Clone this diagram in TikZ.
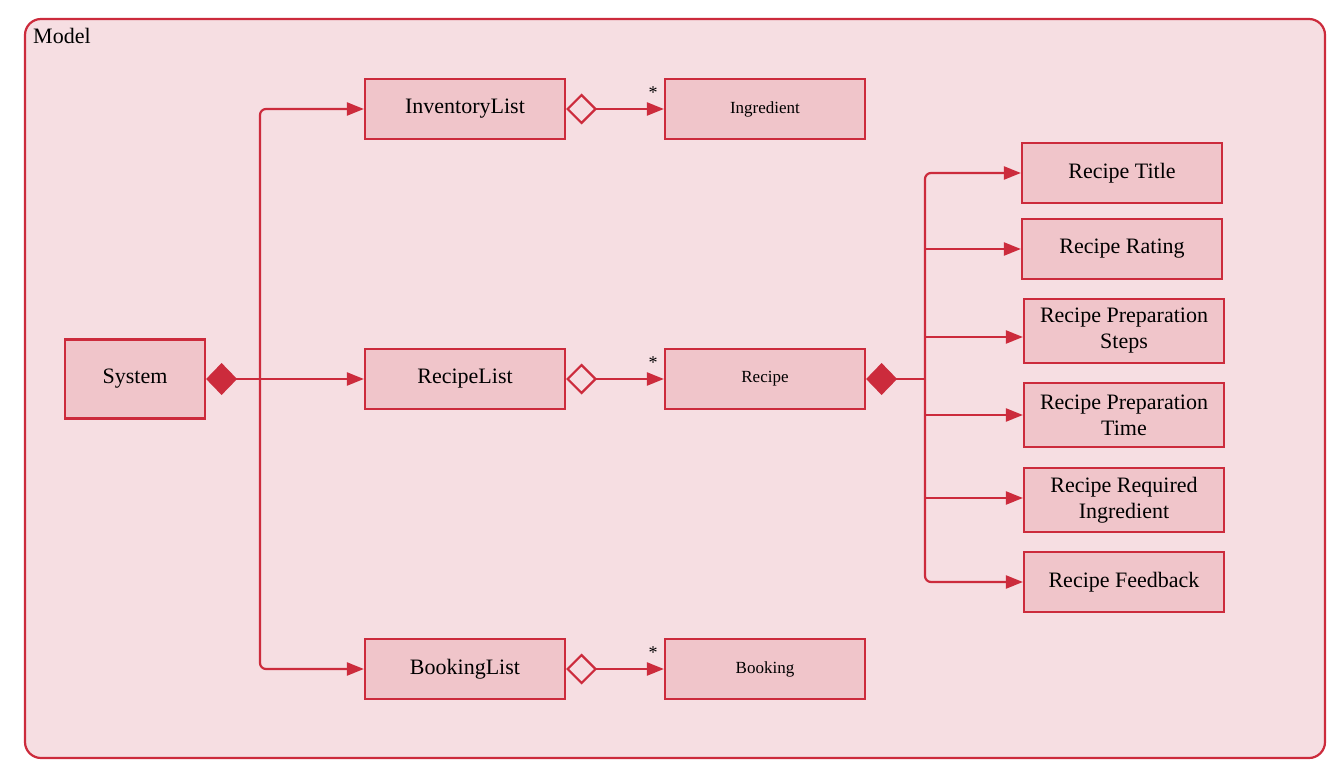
\documentclass[tikz,border=0pt]{standalone}
\usepackage{fontspec}
\setmainfont{Liberation Serif}
\usetikzlibrary{arrows.meta,shapes.geometric}
\definecolor{umlred}{HTML}{CC2B3C}
\definecolor{outerfill}{HTML}{F6DEE2}
\definecolor{boxfill}{HTML}{F0C5CA}
\tikzset{
  cls/.style={draw=umlred, line width=2.2pt, fill=boxfill, minimum width=200pt, minimum height=60pt, inner sep=2pt, align=center, font=\fontsize{22}{26}\selectfont, text=black},
  smallcls/.style={cls, font=\fontsize{17}{20}\selectfont},
  tallcls/.style={cls, minimum height=64pt},
  conn/.style={draw=umlred, line width=2.2pt, -{Triangle[length=17pt,width=13pt]}},
  compo/.style={conn, {Diamond[length=31pt,width=32pt]}-{Triangle[length=17pt,width=13pt]}},
  aggr/.style={conn, {Diamond[open,length=31pt,width=31pt,line width=2.2pt]}-{Triangle[length=17pt,width=13pt]}},
  mult/.style={font=\fontsize{18}{18}\selectfont, inner sep=0pt, text=black},
}
\begin{document}
\begin{tikzpicture}[x=1pt,y=-1pt]
\useasboundingbox (0,0) rectangle (1344,781);
\draw[draw=umlred, line width=2.2pt, fill=outerfill, rounded corners=16pt] (25,19) rectangle (1325,758);
\node[anchor=north west, inner sep=0pt, font=\fontsize{22}{26}\selectfont] (model) at (33,28) {Model};

\node[cls, minimum width=140pt, minimum height=79pt] (sys) at (135,379) {System};
\node[cls] (il) at (465,109) {InventoryList};
\node[cls] (rl) at (465,379) {RecipeList};
\node[cls] (bl) at (465,669) {BookingList};
\node[smallcls] (ing) at (765,109) {Ingredient};
\node[smallcls] (rec) at (765,379) {Recipe};
\node[smallcls] (book) at (765,669) {Booking};

\node[cls] (title) at (1122,173) {Recipe Title};
\node[cls] (rating) at (1122,249) {Recipe Rating};
\node[tallcls] (steps) at (1124,331) {Recipe Preparation\\Steps};
\node[tallcls] (time) at (1124,415) {Recipe Preparation\\Time};
\node[tallcls] (req) at (1124,500) {Recipe Required\\Ingredient};
\node[cls] (feed) at (1124,582) {Recipe Feedback};

\coordinate (lbus) at (260,379);
\coordinate (rbus) at (925,379);

% System composition
\draw[compo] (sys.east) -- (rl.west);
\draw[conn, rounded corners=6pt] (lbus) |- (il.west);
\draw[conn, rounded corners=6pt] (lbus) |- (bl.west);

% aggregations
\draw[aggr] (il.east) -- (ing.west);
\draw[aggr] (rl.east) -- (rec.west);
\draw[aggr] (bl.east) -- (book.west);
\node[mult] (m1) at (653,93) {*};
\node[mult] (m2) at (653,363) {*};
\node[mult] (m3) at (653,653) {*};

% Recipe composition
\draw[draw=umlred, line width=2.2pt, {Diamond[length=31pt,width=32pt]}-] (rec.east) -- (rbus);
\draw[conn, rounded corners=6pt] (rbus) |- (title.west);
\draw[conn, rounded corners=6pt] (rbus) |- (feed.west);
\draw[conn] (rbus |- rating.west) -- (rating.west);
\draw[conn] (925,337) -- ([yshift=-6pt]steps.west);
\draw[conn] (rbus |- time.west) -- (time.west);
\draw[conn] (925,498) -- ([yshift=2pt]req.west);
\end{tikzpicture}
\end{document}
